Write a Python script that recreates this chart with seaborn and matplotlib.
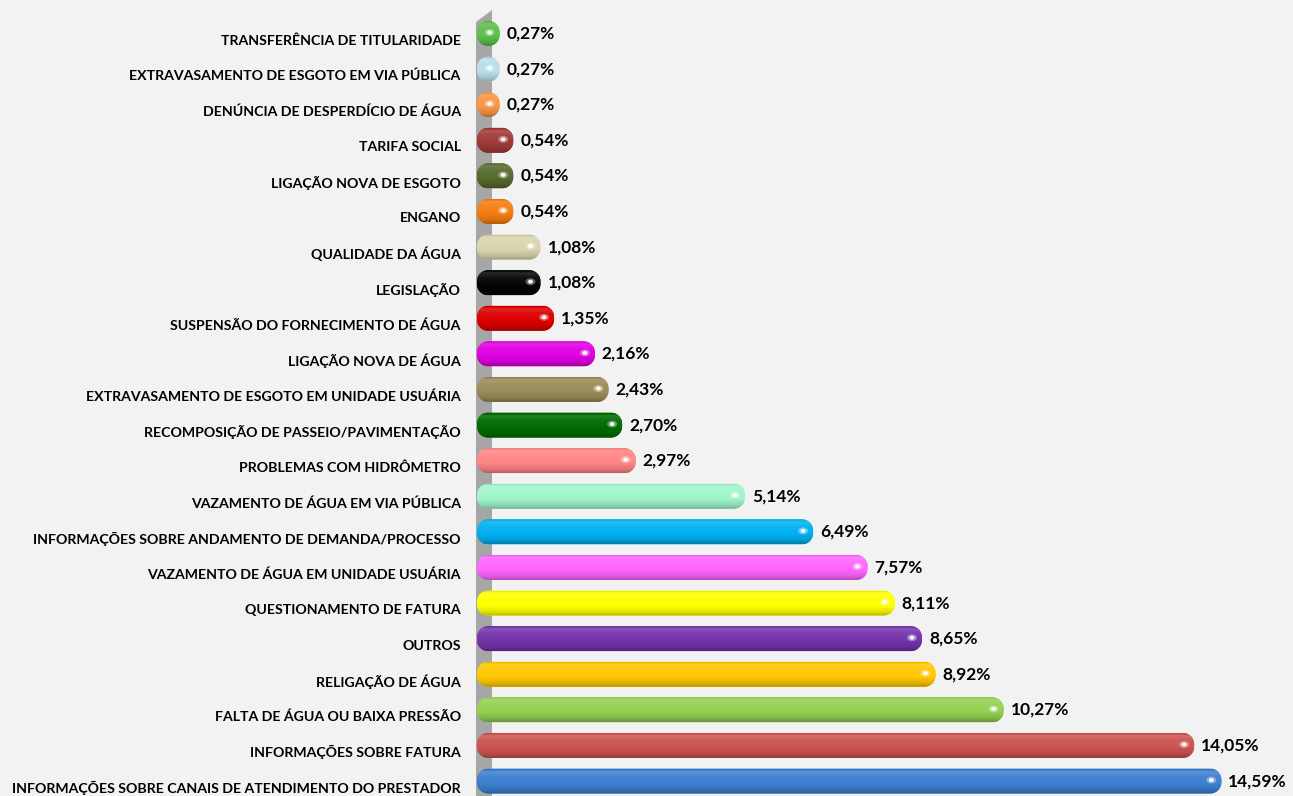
import numpy as np
import pandas as pd
import matplotlib
matplotlib.use("Agg")
import matplotlib.pyplot as plt
import matplotlib.colors as mcolors
from matplotlib.patches import Polygon, Ellipse
from matplotlib.transforms import ScaledTranslation
import seaborn as sns

categories = [
    "TRANSFERÊNCIA DE TITULARIDADE",
    "EXTRAVASAMENTO DE ESGOTO EM VIA PÚBLICA",
    "DENÚNCIA DE DESPERDÍCIO DE ÁGUA",
    "TARIFA SOCIAL",
    "LIGAÇÃO NOVA DE ESGOTO",
    "ENGANO",
    "QUALIDADE DA ÁGUA",
    "LEGISLAÇÃO",
    "SUSPENSÃO DO FORNECIMENTO DE ÁGUA",
    "LIGAÇÃO NOVA DE ÁGUA",
    "EXTRAVASAMENTO DE ESGOTO EM UNIDADE USUÁRIA",
    "RECOMPOSIÇÃO DE PASSEIO/PAVIMENTAÇÃO",
    "PROBLEMAS COM HIDRÔMETRO",
    "VAZAMENTO DE ÁGUA EM VIA PÚBLICA",
    "INFORMAÇÕES SOBRE ANDAMENTO DE DEMANDA/PROCESSO",
    "VAZAMENTO DE ÁGUA EM UNIDADE USUÁRIA",
    "QUESTIONAMENTO DE FATURA",
    "OUTROS",
    "RELIGAÇÃO DE ÁGUA",
    "FALTA DE ÁGUA OU BAIXA PRESSÃO",
    "INFORMAÇÕES SOBRE FATURA",
    "INFORMAÇÕES SOBRE CANAIS DE ATENDIMENTO DO PRESTADOR",
]
percent = [0.27, 0.27, 0.27, 0.54, 0.54, 0.54, 1.08, 1.08, 1.35, 2.16, 2.43,
           2.70, 2.97, 5.14, 6.49, 7.57, 8.11, 8.65, 8.92, 10.27, 14.05, 14.59]
bar_colors = ["#5cbf4a", "#b9dde9", "#f79646", "#a03a38", "#566b2c", "#f57d10",
              "#d9d3ae", "#050505", "#dc0000", "#e000e0", "#9a8c58", "#006a00",
              "#ff8585", "#a0f5cc", "#00b0f0", "#ff66ff", "#ffff00", "#7434aa",
              "#ffc800", "#94d050", "#cc5350", "#3c7fd0"]

df = pd.DataFrame({"categoria": categories, "pct": percent})

W, H = 1293, 796
BG = "#f2f2f2"

sns.set_theme(style="white")
plt.rcParams["font.family"] = ["Lato", "DejaVu Sans"]

fig = plt.figure(figsize=(W / 100, H / 100), dpi=100, facecolor=BG)
ax = fig.add_axes([476 / W, 0, 1 - 476 / W, 1])
ax.set_facecolor("none")
ax.set_zorder(2)

# left side wall of the 3D plot area
wall = Polygon([(476 / W, 1 - 22 / H), (492 / W, 1 - 10 / H),
                (492 / W, 0), (476 / W, 0)],
               closed=True, transform=fig.transFigure, facecolor="#a6a6a6",
               edgecolor="none", zorder=-1)
fig.patches.append(wall)

sns.barplot(data=df, x="pct", y="categoria", hue="categoria",
            palette=bar_colors, orient="h", width=0.7, legend=False, ax=ax)

ax.set_xlim(-10 / 50.4, (W - 486) / 50.4)
ax.set_ylim(21.42, -0.941)
sx = ax.transData.transform((1, 0))[0] - ax.transData.transform((0, 0))[0]
sy = abs(ax.transData.transform((0, 1))[1] - ax.transData.transform((0, 0))[1])


def shade(color, f):
    c = np.array(mcolors.to_rgb(color))
    if f >= 1:
        return c + (1 - c) * (f - 1)
    return c * f


t_prof = np.array([0.0, 0.1, 0.3, 0.6, 0.85, 1.0])
f_prof = np.array([0.9, 1.15, 1.05, 1.0, 0.88, 0.72])
tt = np.linspace(0, 1, 40)

for patch, color in zip(ax.patches, bar_colors):
    patch.set_visible(False)
    y0 = patch.get_y()
    h = patch.get_height()
    yc = y0 + h / 2
    x_left = patch.get_x() - 9 / sx
    x_right = patch.get_x() + patch.get_width()
    wpx = (x_right - x_left) * sx
    r_px = min(11.0, wpx / 2)
    rx, ry = r_px / sx, r_px / sy
    th = np.linspace(0, np.pi / 2, 12)
    pts = []
    for cx, cy, a0 in [(x_right - rx, y0 + ry, -np.pi / 2),
                       (x_right - rx, y0 + h - ry, 0),
                       (x_left + rx, y0 + h - ry, np.pi / 2),
                       (x_left + rx, y0 + ry, np.pi)]:
        for a in a0 + th:
            pts.append((cx + rx * np.cos(a), cy + ry * np.sin(a)))
    poly = Polygon(pts, closed=True, facecolor=color, edgecolor="none", zorder=2)
    ax.add_patch(poly)
    f = np.interp(tt, t_prof, f_prof)
    grad = np.array([shade(color, v) for v in f]).reshape(-1, 1, 3)
    im = ax.imshow(np.clip(grad, 0, 1), extent=[x_left, x_right, y0 + h, y0],
                   origin="upper", aspect="auto", interpolation="bilinear", zorder=3)
    im.set_clip_path(poly)
    # specular highlight near the rounded end
    hx = x_right - 10 / sx
    ax.add_patch(Ellipse((hx, yc - 1 / sy), 10 / sx, 7 / sy, facecolor="white",
                         edgecolor="none", alpha=0.35, zorder=4))
    ax.add_patch(Ellipse((hx, yc - 1 / sy), 5 / sx, 4 / sy, facecolor="white",
                         edgecolor="none", alpha=0.95, zorder=5))

ax.set_xlim(-10 / 50.4, (W - 486) / 50.4)
ax.set_ylim(21.42, -0.941)

for i, v in enumerate(percent):
    ax.annotate("{:.2f}%".format(v).replace(".", ","), xy=(v, i),
                xytext=(7, 0), textcoords="offset pixels", ha="left",
                va="center", fontsize=12.5, fontweight="bold", color="black",
                zorder=6)

ax.set_xlabel("")
ax.set_ylabel("")
ax.set_xticks([])
ax.tick_params(axis="y", length=0, pad=11)
for lab in ax.get_yticklabels():
    lab.set_fontweight("bold")
    lab.set_fontsize(10.2)
    lab.set_color("black")
    lab.set_transform(lab.get_transform() + ScaledTranslation(0, -6 / 100, fig.dpi_scale_trans))
for s in ax.spines.values():
    s.set_visible(False)
ax.grid(False)

fig.savefig("out.png", dpi=100, facecolor=BG)
